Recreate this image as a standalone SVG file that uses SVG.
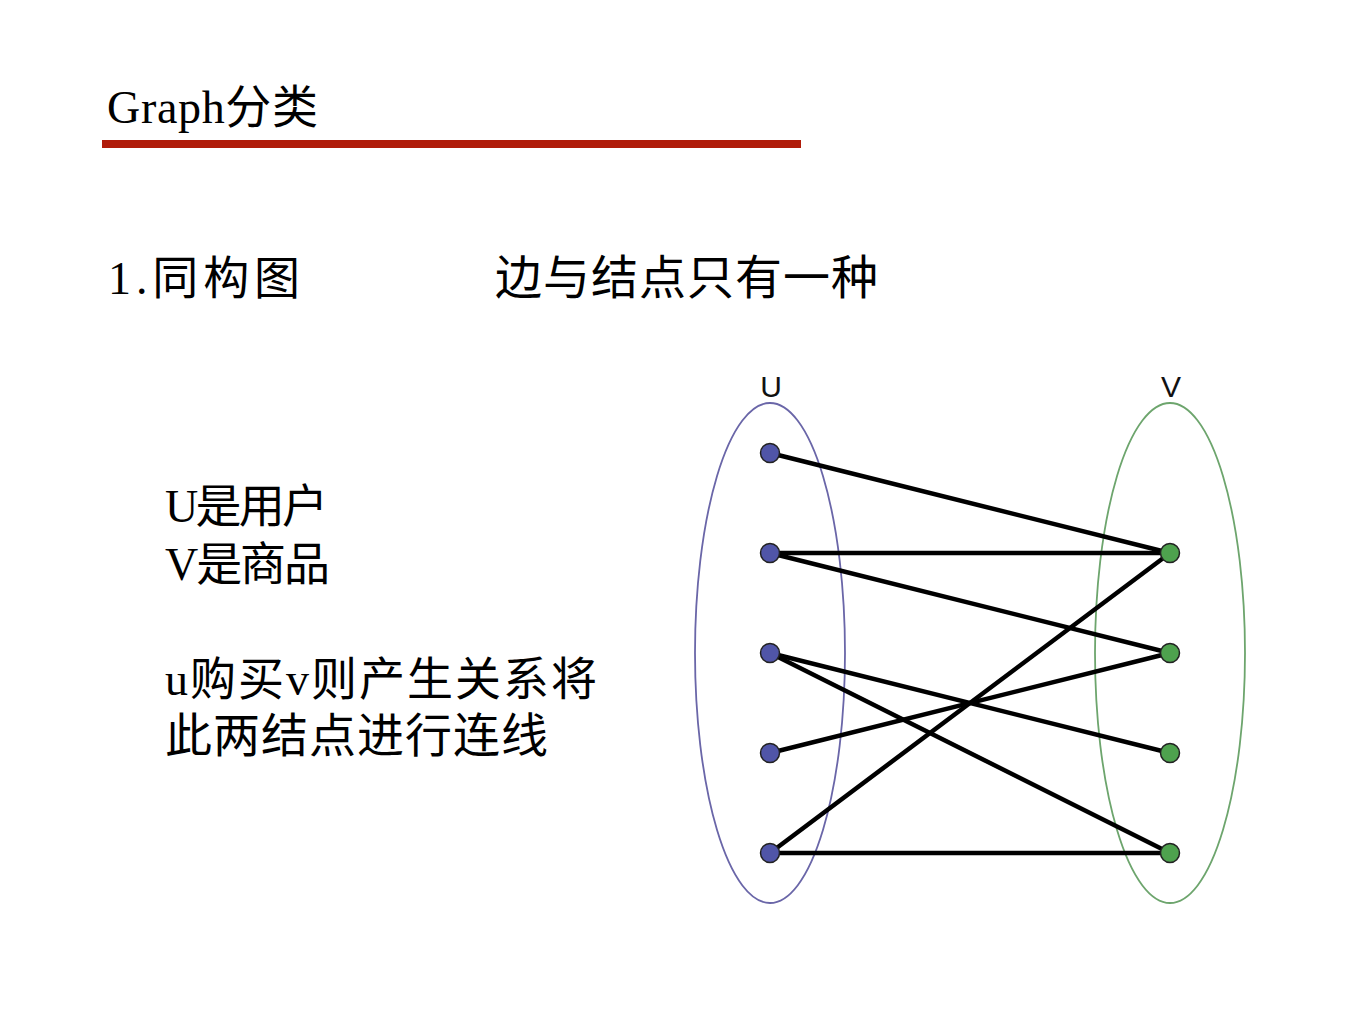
<svg xmlns="http://www.w3.org/2000/svg" width="1365" height="1024" viewBox="0 0 1365 1024">
<style>
.t{font-family:"Liberation Serif","Noto Sans CJK SC",serif;fill:#000}
.lbl{font-family:"Liberation Sans",Arial,sans-serif;font-size:30px;fill:#111;text-anchor:middle}
.u{fill:#5055a8;stroke:#222;stroke-width:1.5}
.v{fill:#4ea24e;stroke:#222;stroke-width:1.5}
.e{stroke:#000;stroke-width:4.5;fill:none;stroke-linecap:round}
</style>
<rect width="1365" height="1024" fill="#fff"/>
<g id="title">
<text class="t" x="107" y="123" font-size="46" textLength="211">Graph分类</text>
<rect x="102" y="140" width="699" height="8" fill="#b01c0a"/>
</g>
<g id="heading">
<text class="t" x="108" y="294" font-size="46" textLength="192">1.同构图</text>
<text class="t" x="495" y="294" font-size="47" textLength="383">边与结点只有一种</text>
</g>
<g id="desc">
<text class="t" x="165" y="522" font-size="46" textLength="163">U是用户</text>
<text class="t" x="165" y="580" font-size="46" textLength="165">V是商品</text>
<text class="t" x="165" y="695" font-size="46" textLength="432">u购买v则产生关系将</text>
<text class="t" x="165" y="752" font-size="47" textLength="383">此两结点进行连线</text>
</g>
<g id="setU">
<ellipse cx="770" cy="653" rx="75" ry="250" fill="none" stroke="#6a66a8" stroke-width="1.8"/>
<text class="lbl" x="771" y="397">U</text>
</g>
<g id="setV">
<ellipse cx="1170" cy="653" rx="75" ry="250" fill="none" stroke="#6da56d" stroke-width="1.8"/>
<text class="lbl" x="1171" y="397">V</text>
</g>
<g id="connectors">
<line class="e" x1="770" y1="453" x2="1170" y2="553"/>
<line class="e" x1="770" y1="553" x2="1170" y2="553"/>
<line class="e" x1="770" y1="553" x2="1170" y2="653"/>
<line class="e" x1="770" y1="653" x2="1170" y2="753"/>
<line class="e" x1="770" y1="653" x2="1170" y2="853"/>
<line class="e" x1="770" y1="753" x2="1170" y2="653"/>
<line class="e" x1="770" y1="853" x2="1170" y2="553"/>
<line class="e" x1="770" y1="853" x2="1170" y2="853"/>
</g>
<g id="u1"><circle class="u" cx="770" cy="453" r="9.5"/></g>
<g id="u2"><circle class="u" cx="770" cy="553" r="9.5"/></g>
<g id="u3"><circle class="u" cx="770" cy="653" r="9.5"/></g>
<g id="u4"><circle class="u" cx="770" cy="753" r="9.5"/></g>
<g id="u5"><circle class="u" cx="770" cy="853" r="9.5"/></g>
<g id="v1"><circle class="v" cx="1170" cy="553" r="9.5"/></g>
<g id="v2"><circle class="v" cx="1170" cy="653" r="9.5"/></g>
<g id="v3"><circle class="v" cx="1170" cy="753" r="9.5"/></g>
<g id="v4"><circle class="v" cx="1170" cy="853" r="9.5"/></g>
</svg>
